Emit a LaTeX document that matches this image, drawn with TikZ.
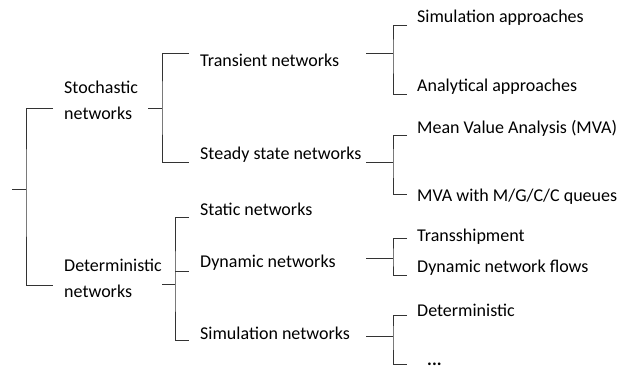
\documentclass[tikz,border=0pt]{standalone}
\usepackage{fontspec}
\setmainfont{Carlito}
\usetikzlibrary{positioning}
\tikzset{
	txt/.style={
		anchor=west,
		inner sep=0pt,
		font=\fontsize{18}{26}\selectfont,
		text=black,
	},
	txtbox/.style={
		txt,
		align=left,
	},
	brace/.style={
		draw=black!80,
		line width=1pt,
	},
}
\begin{document}
\begin{tikzpicture}[x=1pt, y=-1pt]
		\useasboundingbox (0,0) rectangle (628,368);
		% Place text nodes
		\node [txtbox] (stoch) at (64,100) {Stochastic\\networks};
		\node [txtbox] (determ) at (64,278) {Deterministic\\networks};
		
		\node [txt] (trans) at (200,60) {Transient networks};
		\node [txt] (steady) at (200,155) {Steady state networks};
		\node [txt] (static) at (200,209) {Static networks};
		\node [txt] (dyn) at (200,263) {Dynamic networks};
		\node [txt] (simnet) at (200,333) {Simulation networks};
		
		\node [txt] (simapp) at (417,18) {Simulation approaches};
		\node [txt] (anaapp) at (417,87) {Analytical approaches};
		\node [txt] (mva) at (417,128) {Mean Value Analysis (MVA)};
		\node [txt] (mvaq) at (417,197) {MVA with M/G/C/C queues};
		\node [txt] (trship) at (417,237) {Transshipment};
		\node [txt] (flows) at (417,268) {Dynamic network flows};
		\node [txt] (detsim) at (417,310) {Deterministic};
		\node [txt, anchor=base west] (dots) at (427,365) {\textbf{...}};
		
		% Place bracket joints
		\coordinate (root) at (12,189);
		\coordinate (rootj) at (26,189);
		\coordinate (stochin) at (53,108);
		\coordinate (determin) at (53,285);
		
		\coordinate (stochout) at (148,108);
		\coordinate (stochj) at (162,108);
		\coordinate (transin) at (189,53);
		\coordinate (steadyin) at (189,162);
		
		\coordinate (determout) at (162,284);
		\coordinate (determj) at (175,284);
		\coordinate (staticin) at (189,217);
		\coordinate (dynin) at (189,271);
		\coordinate (simnetin) at (189,340);
		
		\coordinate (transout) at (366,53);
		\coordinate (transj) at (393,53);
		\coordinate (simappin) at (407,25);
		\coordinate (anaappin) at (407,94);
		
		\coordinate (steadyout) at (366,162);
		\coordinate (steadyj) at (393,162);
		\coordinate (mvain) at (407,135);
		\coordinate (mvaqin) at (407,194);
		
		\coordinate (dynout) at (366,258);
		\coordinate (dynj) at (393,258);
		\coordinate (trshipin) at (407,238);
		\coordinate (flowsin) at (407,275);
		
		\coordinate (simnetout) at (366,336);
		\coordinate (simnetj) at (393,336);
		\coordinate (detsimin) at (407,315);
		\coordinate (dotsin) at (407,364);
		
		% Brackets
		\draw [brace] (root) to (rootj);
		\draw [brace] (stochin) -| (rootj) |- (determin);
		
		\draw [brace] (stochout) to (stochj);
		\draw [brace] (transin) -| (stochj) |- (steadyin);
		
		\draw [brace] (determout) to (determj);
		\draw [brace] (staticin) -| (determj) |- (simnetin);
		\draw [brace] (dynin -| determj) to (dynin);
		
		\draw [brace] (transout) to (transj);
		\draw [brace] (simappin) -| (transj) |- (anaappin);
		
		\draw [brace] (steadyout) to (steadyj);
		\draw [brace] (mvain) -| (steadyj) |- (mvaqin);
		
		\draw [brace] (dynout) to (dynj);
		\draw [brace] (trshipin) -| (dynj) |- (flowsin);
		
		\draw [brace] (simnetout) to (simnetj);
		\draw [brace] (detsimin) -| (simnetj) |- (dotsin);

	\end{tikzpicture}
\end{document}
